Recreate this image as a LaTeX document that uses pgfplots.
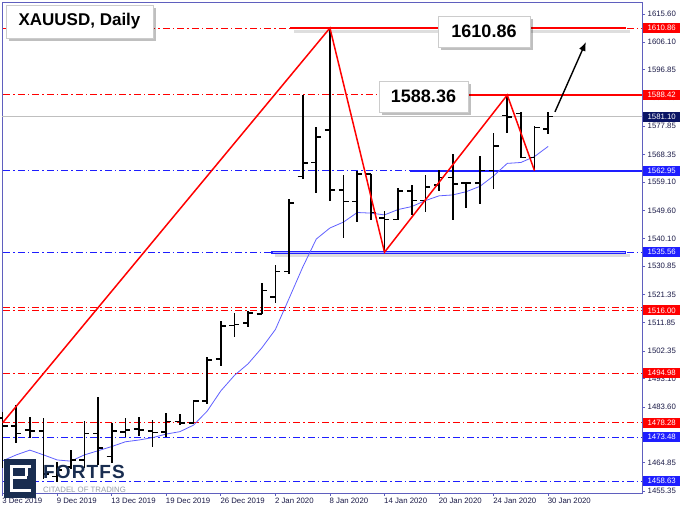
\documentclass[border=0pt]{standalone}
\usepackage{pgfplots}
\pgfplotsset{compat=1.18}
\usepackage{pgfplotstable}
\usepackage{fontspec}
\setmainfont{Liberation Sans}
\usetikzlibrary{arrows.meta}

\definecolor{mtred}{RGB}{255,0,0}
\definecolor{mtblue}{RGB}{30,30,255}
\definecolor{maBlue}{RGB}{95,95,255}
\definecolor{frameC}{RGB}{95,95,190}
\definecolor{lblC}{RGB}{25,25,70}
\definecolor{navyBox}{RGB}{10,20,100}
\definecolor{logoNavy}{RGB}{25,45,80}
\definecolor{logoGray}{RGB}{150,158,168}

\pgfplotstableread{
idx O H L C
0 1480.0 1482.0 1463.0 1477.2
1 1477.2 1484.3 1471.6 1474.7
2 1475.9 1480.3 1473.1 1475.5
3 1475.6 1479.8 1459.5 1461.0
4 1460.2 1465.2 1458.5 1462.4
5 1463.5 1469.1 1462.8 1465.8
6 1465.8 1479.0 1463.0 1474.7
7 1474.7 1486.8 1464.1 1469.7
8 1467.0 1478.3 1464.7 1475.6
9 1475.3 1479.8 1473.4 1475.9
10 1476.3 1480.3 1473.8 1475.9
11 1475.6 1479.2 1470.3 1475.0
12 1475.3 1481.7 1473.6 1478.7
13 1478.7 1481.2 1477.5 1478.3
14 1478.3 1485.9 1478.1 1485.7
15 1485.7 1500.3 1484.6 1499.4
16 1499.6 1512.6 1497.4 1510.9
17 1511.0 1515.3 1507.2 1511.3
18 1511.9 1515.9 1510.6 1515.1
19 1514.9 1525.1 1514.9 1522.7
20 1520.6 1531.3 1518.4 1529.1
21 1529.1 1553.4 1528.3 1552.2
22 1561.0 1588.4 1560.0 1565.5
23 1565.7 1577.5 1555.4 1574.2
24 1576.6 1610.86 1552.6 1556.5
25 1556.5 1561.5 1540.3 1552.6
26 1552.6 1563.0 1545.8 1561.9
27 1561.9 1561.9 1546.4 1548.9
28 1547.0 1549.5 1535.56 1546.6
29 1546.6 1557.2 1546.3 1556.2
30 1556.2 1558.2 1548.1 1552.9
31 1552.9 1561.5 1549.2 1557.4
32 1558.2 1563.2 1556.2 1560.7
33 1560.7 1568.6 1546.4 1558.5
34 1558.7 1559.0 1550.3 1558.7
35 1558.7 1567.9 1551.8 1563.0
36 1563.0 1575.7 1556.7 1571.3
37 1581.5 1588.36 1575.7 1581.0
38 1582.2 1582.8 1567.1 1567.4
39 1567.4 1577.8 1562.95 1577.5
40 1576.9 1582.5 1575.3 1581.1
}\bars

\pgfplotstableread{
idx M
0 1465.5
1 1467.5
2 1469.1
3 1467.5
4 1465.8
5 1465.4
6 1467.5
7 1468.9
8 1470.3
9 1471.9
10 1472.5
11 1473.3
12 1474.5
13 1475.3
14 1477.5
15 1482.2
16 1489.0
17 1494.2
18 1498.1
19 1503.4
20 1509.6
21 1520.0
22 1530.5
23 1540.0
24 1543.7
25 1545.7
26 1548.9
27 1548.7
28 1548.1
29 1549.9
30 1550.9
31 1552.9
32 1554.5
33 1554.8
34 1555.9
35 1557.7
36 1561.2
37 1565.4
38 1565.7
39 1567.7
40 1571.1
}\ma

\pgfdeclareplotmark{otick}{\pgfpathmoveto{\pgfpoint{-5bp}{0pt}}\pgfpathlineto{\pgfpoint{0pt}{0pt}}\pgfusepathqstroke}
\pgfdeclareplotmark{ctick}{\pgfpathmoveto{\pgfpoint{0pt}{0pt}}\pgfpathlineto{\pgfpoint{5bp}{0pt}}\pgfusepathqstroke}
\pgfdeclareplotmark{nothing}{}

\tikzset{
  dd/.style={line width=0.8bp, dash pattern=on 7bp off 3bp on 1.5bp off 3bp},
  plab/.style={anchor=west, inner sep=0pt, minimum width=37bp, minimum height=10bp,
    font=\fontsize{7.8bp}{8bp}\selectfont, text=white},
}
\newcommand{\vy}[1]{511-13.91-(1615.6-#1)*2.9776}

\begin{document}
\begin{tikzpicture}
\useasboundingbox (0,0) rectangle (681bp,511bp);
\begin{axis}[
  at={(2bp,18bp)}, anchor=south west,
  scale only axis, width=640bp, height=491bp,
  xmin=-0.044, xmax=46.88, ymin=1454.7, ymax=1619.6,
  axis line style={frameC, line width=0.8bp},
  xtick={0,4,...,40},
  xticklabels={3 Dec 2019,9 Dec 2019,13 Dec 2019,19 Dec 2019,26 Dec 2019,2 Jan 2020,8 Jan 2020,14 Jan 2020,20 Jan 2020,24 Jan 2020,30 Jan 2020},
  xticklabel style={anchor=north west, inner sep=0pt, yshift=-2bp, xshift=-0.5bp,
    font=\fontsize{7.8bp}{9bp}\selectfont, text=lblC},
  ytick={1455.35,1464.85,1474.10,1483.60,1493.10,1502.35,1511.85,1521.35,1530.85,1540.10,1549.60,1559.10,1568.35,1577.85,1587.35,1596.85,1606.10,1615.60},
  yticklabels={1455.35,1464.85,{},1483.60,1493.10,1502.35,1511.85,1521.35,1530.85,1540.10,1549.60,1559.10,1568.35,1577.85,1587.35,1596.85,1606.10,1615.60},
  yticklabel style={anchor=west, inner sep=0pt, xshift=2.5bp, font=\fontsize{7.8bp}{9bp}\selectfont, text=lblC},
  yticklabel pos=right, ytick pos=right, xtick pos=bottom,
  tick align=outside, major tick length=3bp,
  tick style={frameC, line width=0.7bp},
  clip mode=individual,
]
% full-width dash-dot levels
\addplot[mtred, dd] coordinates {(-1,1610.86) (48,1610.86)};
\addplot[mtred, dd] coordinates {(-1,1588.42) (48,1588.42)};
\addplot[mtred, dd] coordinates {(-1,1517.1) (48,1517.1)};
\addplot[mtred, dd] coordinates {(-1,1516.00) (48,1516.00)};
\addplot[mtred, dd] coordinates {(-1,1494.98) (48,1494.98)};
\addplot[mtred, dd] coordinates {(-1,1478.28) (48,1478.28)};
\addplot[mtblue, dd] coordinates {(-1,1562.95) (48,1562.95)};
\addplot[mtblue, dd] coordinates {(-1,1535.56) (48,1535.56)};
\addplot[mtblue, dd] coordinates {(-1,1473.48) (48,1473.48)};
\addplot[mtblue, dd] coordinates {(-1,1458.63) (48,1458.63)};
\addplot[black!25, line width=0.7bp] coordinates {(-1,1581.10) (48,1581.10)};
% shadows of solid segments
\addplot[black, opacity=0.13, line width=3.5bp] coordinates {(21.4,1609.7) (46.0,1609.7)};
\addplot[black, opacity=0.13, line width=3.5bp] coordinates {(20.0,1534.4) (46.0,1534.4)};
% solid segments
\addplot[mtred, line width=2bp] coordinates {(21.1,1610.86) (45.7,1610.86)};
\addplot[mtred, line width=2bp] coordinates {(34.05,1588.42) (48,1588.42)};
\addplot[mtblue, line width=2bp] coordinates {(29.87,1562.95) (48,1562.95)};
\addplot[mtblue, line width=2.6bp] coordinates {(19.68,1535.56) (45.7,1535.56)};
\addplot[mtblue!35, line width=0.7bp] coordinates {(19.8,1535.56) (45.6,1535.56)};
% moving average
\addplot[maBlue, line width=0.8bp] table[x=idx, y=M] {\ma};
% OHLC bars
\addplot[black, only marks, mark=nothing,
  error bars/.cd, y dir=both, y explicit, error mark=none,
  error bar style={black, line width=1.7bp}]
  table[x=idx, y expr={(\thisrow{H}+\thisrow{L})/2}, y error expr={(\thisrow{H}-\thisrow{L})/2}] {\bars};
\addplot[black, only marks, mark=otick, mark options={line width=1.7bp}] table[x=idx, y=O] {\bars};
\addplot[black, only marks, mark=ctick, mark options={line width=1.7bp}] table[x=idx, y=C] {\bars};
% zigzag
\addplot[mtred, line width=1.5bp] coordinates {(0,1478.28) (24,1610.86) (28,1535.56) (37,1588.36) (39,1562.95)};
% arrow
\addplot[black, line width=1.4bp, -{Latex[length=9bp,width=7bp]}] coordinates {(40.5,1582.7) (42.77,1606.2)};
\end{axis}

\begin{scope}[x=1bp, y=1bp]
% right price labels
\node[plab, fill=mtred] at (643,{\vy{1610.86}}) {1610.86};
\node[plab, fill=mtred] at (643,{\vy{1588.42}}) {1588.42};
\node[plab, fill=navyBox] at (643,{\vy{1581.10}}) {1581.10};
\node[plab, fill=mtblue] at (643,{\vy{1562.95}}) {1562.95};
\node[plab, fill=mtblue] at (643,{\vy{1535.56}}) {1535.56};
\node[plab, fill=mtred] at (643,{\vy{1516.00}}) {1516.00};
\node[plab, fill=mtred] at (643,{\vy{1494.98}}) {1494.98};
\node[plab, fill=mtred] at (643,{\vy{1478.28}}) {1478.28};
\node[plab, fill=mtblue] at (643,{\vy{1473.48}}) {1473.48};
\node[plab, fill=mtblue] at (643,{\vy{1458.63}}) {1458.63};
% title box
\fill[black, opacity=0.25] (9,470) rectangle (156,503);
\draw[black!20, fill=white] (6,506) rectangle (153,473);
\node[font=\fontsize{17bp}{19bp}\selectfont\bfseries] at (79.5,489.5) {XAUUSD, Daily};
% price boxes
\fill[black, opacity=0.25] (441,461) rectangle (533,492);
\draw[black!20, fill=white] (438,495) rectangle (530,464);
\node[font=\fontsize{18bp}{20bp}\selectfont\bfseries] at (484,479.5) {1610.86};
\fill[black, opacity=0.25] (382,396) rectangle (471,427);
\draw[black!20, fill=white] (379,430) rectangle (468,399);
\node[font=\fontsize{18bp}{20bp}\selectfont\bfseries] at (423.5,414.5) {1588.36};
% logo
\fill[logoNavy] (4,52) rectangle (36,13);
\fill[white] (10,46) rectangle (31,43);
\fill[white] (10,46) rectangle (13,19);
\fill[white] (10,35) rectangle (27,32);
\fill[white] (10,22) rectangle (31,19);
\fill[white] (25,43) rectangle (28,35);
\node[anchor=base west, inner sep=0pt, text=logoNavy, font=\fontsize{19bp}{20bp}\selectfont\bfseries\addfontfeature{LetterSpace=6}] at (43,33) {FORTFS};
\node[anchor=base west, inner sep=0pt, text=logoGray, font=\fontsize{7.8bp}{9bp}\selectfont] at (43,19) {CITADEL OF TRADING};
\end{scope}
\end{tikzpicture}
\end{document}
